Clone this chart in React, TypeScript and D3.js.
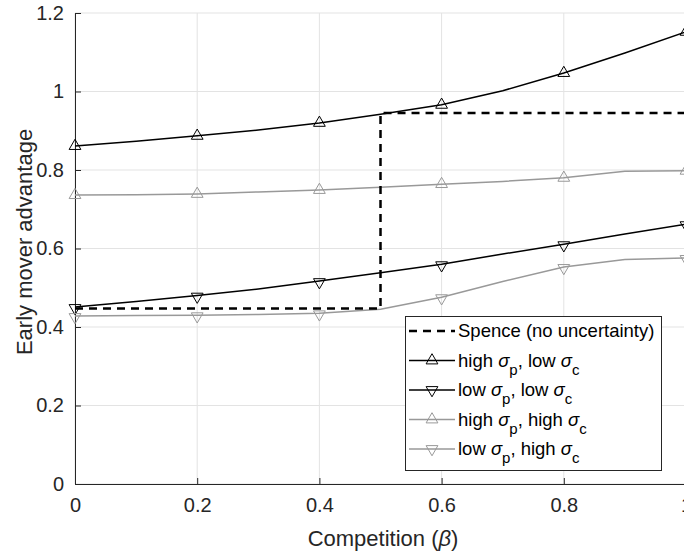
import React, { useEffect, useRef } from 'react';
import * as d3 from 'd3';

// competition beta values (every 0.1), markers every 0.2
const beta = [0, 0.1, 0.2, 0.3, 0.4, 0.5, 0.6, 0.7, 0.8, 0.9, 1];
const highPLowC = [0.861, 0.873, 0.887, 0.902, 0.920, 0.942, 0.966, 1.002, 1.047, 1.098, 1.152];
const lowPLowC = [0.451, 0.465, 0.480, 0.497, 0.517, 0.538, 0.560, 0.586, 0.611, 0.637, 0.662];
const highPHighC = [0.736, 0.737, 0.739, 0.744, 0.749, 0.756, 0.764, 0.771, 0.780, 0.797, 0.798];
const lowPHighC = [0.428, 0.429, 0.430, 0.432, 0.435, 0.445, 0.476, 0.516, 0.553, 0.572, 0.576];
const spenceX = [0, 0.5, 0.5, 1];
const spenceY = [0.447, 0.447, 0.945, 0.945];
const xTicks = [0, 0.2, 0.4, 0.6, 0.8, 1];
const yTicks = [0, 0.2, 0.4, 0.6, 0.8, 1, 1.2];

const FONT = 'Liberation Sans, Arial, Helvetica, sans-serif';

const App = () => {
  const ref = useRef<SVGSVGElement>(null);

  useEffect(() => {
    const svg = d3.select(ref.current);
    svg.selectAll('*').remove();

    const x = d3.scaleLinear().domain([0, 1]).range([75, 686]);
    const y = d3.scaleLinear().domain([0, 1.2]).range([484, 13]);

    // grid
    const grid = svg.append('g');
    xTicks.forEach((t) => {
      grid.append('line').attr('x1', x(t)).attr('x2', x(t)).attr('y1', y(0)).attr('y2', y(1.2))
        .attr('stroke', '#e3e3e3').attr('stroke-width', 1);
    });
    yTicks.forEach((t) => {
      grid.append('line').attr('x1', x(0)).attr('x2', x(1)).attr('y1', y(t)).attr('y2', y(t))
        .attr('stroke', '#e3e3e3').attr('stroke-width', 1);
    });

    // axes
    const xAxis = svg.append('g').attr('transform', 'translate(0,' + y(0) + ')')
      .call(d3.axisBottom(x).tickValues(xTicks).tickSizeInner(-6).tickSizeOuter(0).tickPadding(14)
        .tickFormat((d) => String(+d)));
    const yAxis = svg.append('g').attr('transform', 'translate(' + x(0) + ',0)')
      .call(d3.axisLeft(y).tickValues(yTicks).tickSizeInner(-6).tickSizeOuter(0).tickPadding(11)
        .tickFormat((d) => String(+d)));
    [xAxis, yAxis].forEach((a) => {
      a.select('.domain').attr('stroke', '#262626');
      a.selectAll('line').attr('stroke', '#262626');
      a.selectAll('text').attr('fill', '#262626').style('font-family', FONT).style('font-size', '20px');
    });

    const line = d3.line<number>().x((_, i) => x(beta[i])).y((d) => y(d));
    const tri = d3.symbol().type(d3.symbolTriangle).size(60);

    const series = [
      { data: highPLowC, color: '#000000', up: true },
      { data: lowPLowC, color: '#000000', up: false },
      { data: highPHighC, color: '#999999', up: true },
      { data: lowPHighC, color: '#999999', up: false },
    ];

    const plot = svg.append('g');
    series.forEach((s) => {
      plot.append('path').attr('d', line(s.data)).attr('fill', 'none')
        .attr('stroke', s.color).attr('stroke-width', 1.5);
      s.data.forEach((v, i) => {
        if (i % 2 !== 0) return;
        plot.append('path').attr('d', tri())
          .attr('transform', 'translate(' + x(beta[i]) + ',' + (y(v) + (s.up ? 0 : 1)) + ')' + (s.up ? '' : ' rotate(180)'))
          .attr('fill', 'none').attr('stroke', s.color).attr('stroke-width', 1);
      });
    });

    // Spence dashed step
    plot.append('path')
      .attr('d', d3.line<number>().x((_, i) => x(spenceX[i])).y((d) => y(d))(spenceY))
      .attr('fill', 'none').attr('stroke', '#000').attr('stroke-width', 2.5).attr('stroke-dasharray', '8,6');

    // legend
    const lg = svg.append('g');
    lg.append('rect').attr('x', 405.5).attr('y', 316.5).attr('width', 256).attr('height', 154)
      .attr('fill', '#fff').attr('stroke', '#262626').attr('stroke-width', 1);
    const labels = [
      { main: 'Spence (no uncertainty)', dash: true, color: '#000', up: true, p: '' },
      { main: 'high ', p: ', low ', dash: false, color: '#000', up: true },
      { main: 'low ', p: ', low ', dash: false, color: '#000', up: false },
      { main: 'high ', p: ', high ', dash: false, color: '#999999', up: true },
      { main: 'low ', p: ', high ', dash: false, color: '#999999', up: false },
    ];
    labels.forEach((l, i) => {
      const base = 337 + i * 29.5;
      const cy = base - 6;
      if (l.dash) {
        lg.append('line').attr('x1', 409).attr('x2', 455).attr('y1', cy).attr('y2', cy)
          .attr('stroke', '#000').attr('stroke-width', 2.5).attr('stroke-dasharray', '8,6');
      } else {
        lg.append('line').attr('x1', 409).attr('x2', 455).attr('y1', cy).attr('y2', cy)
          .attr('stroke', l.color).attr('stroke-width', 1.5);
        lg.append('path').attr('d', tri())
          .attr('transform', 'translate(432,' + cy + ')' + (l.up ? '' : ' rotate(180)'))
          .attr('fill', 'none').attr('stroke', l.color).attr('stroke-width', 1);
      }
      const t = lg.append('text').attr('x', 458).attr('y', base)
        .style('font-family', FONT).style('font-size', '18.5px').attr('fill', '#000');
      if (l.dash) {
        t.text(l.main);
      } else {
        t.append('tspan').text(l.main);
        t.append('tspan').text('σ').style('font-style', 'italic');
        t.append('tspan').text('p').attr('dy', 8).style('font-size', '15px');
        t.append('tspan').text(l.p).attr('dy', -8);
        t.append('tspan').text('σ').style('font-style', 'italic');
        t.append('tspan').text('c').attr('dy', 8).style('font-size', '15px');
      }
    });

    // axis labels
    svg.append('text').attr('x', 383).attr('y', 546).attr('text-anchor', 'middle')
      .style('font-family', FONT).style('font-size', '22px').attr('fill', '#262626')
      .call((t) => {
        t.append('tspan').text('Competition (');
        t.append('tspan').text('β').style('font-style', 'italic');
        t.append('tspan').text(')');
      });
    svg.append('text').attr('transform', 'translate(32,' + 242 + ') rotate(-90)')
      .attr('text-anchor', 'middle')
      .style('font-family', FONT).style('font-size', '22px').attr('fill', '#262626')
      .text('Early mover advantage');
  }, []);

  return (
    <svg ref={ref} width={684} height={556}
      style={{ position: 'absolute', left: 0, top: 0, background: '#fff' }} />
  );
};

export default App;
